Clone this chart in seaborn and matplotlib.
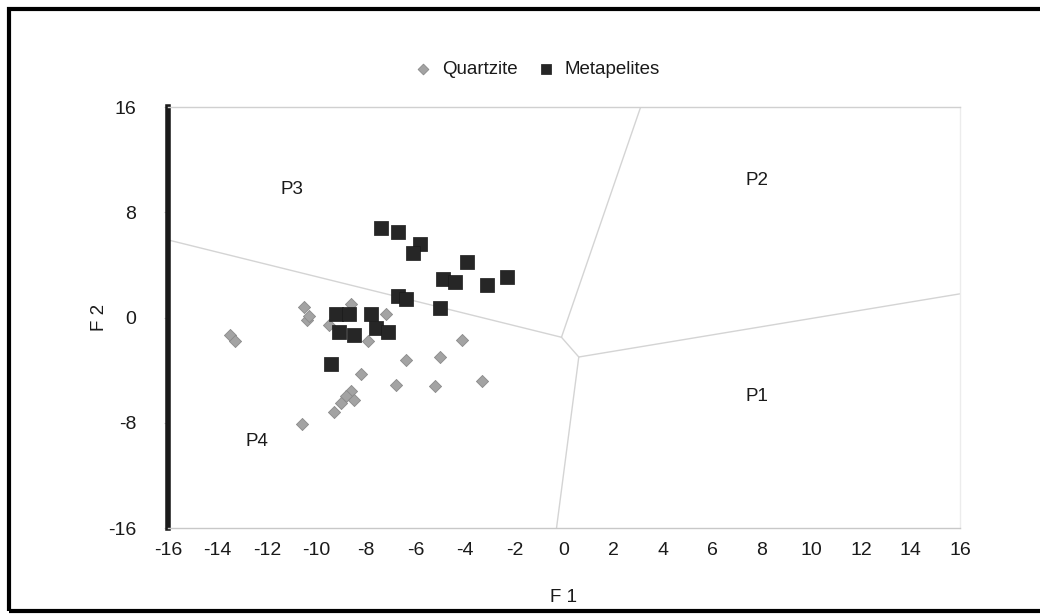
import numpy as np
import pandas as pd
import matplotlib
matplotlib.use("Agg")
import matplotlib.pyplot as plt
import seaborn as sns
from matplotlib.patches import Rectangle

# discriminant scores
quartzite_f1 = [-13.5, -13.3, -10.5, -10.4, -10.3, -9.5, -8.6, -7.2, -7.9, -4.1, -6.4,
                -5.0, -8.2, -8.6, -8.8, -8.5, -9.0, -9.3, -6.8, -5.2, -3.3, -10.6]
quartzite_f2 = [-1.3, -1.8, 0.8, -0.2, 0.1, -0.6, 1.0, 0.3, -1.8, -1.7, -3.2,
                -3.0, -4.3, -5.6, -6.0, -6.3, -6.5, -7.2, -5.1, -5.2, -4.8, -8.1]

metapelite_f1 = [-7.4, -6.7, -5.8, -6.1, -3.9, -4.9, -4.4, -3.1, -2.3, -6.7, -6.4,
                 -5.0, -9.2, -8.7, -7.8, -9.1, -8.5, -7.6, -7.1, -9.4]
metapelite_f2 = [6.8, 6.5, 5.6, 4.9, 4.2, 2.9, 2.7, 2.5, 3.1, 1.6, 1.4,
                 0.7, 0.3, 0.3, 0.3, -1.1, -1.3, -0.8, -1.1, -3.5]

# field boundaries (P1-P4)
boundary_lines = [
    ([-16.0, -0.1], [5.9, -1.5]),
    ([-0.1, 3.1], [-1.5, 16.0]),
    ([-0.1, 0.6], [-1.5, -3.0]),
    ([0.6, 16.0], [-3.0, 1.8]),
    ([0.6, -0.3], [-3.0, -16.0]),
]
field_names = ["P1", "P2", "P3", "P4"]
field_x = [7.8, 7.8, -11.0, -12.4]
field_y = [-6.0, 10.4, 9.7, -9.4]

df = pd.DataFrame({
    "F1": quartzite_f1 + metapelite_f1,
    "F2": quartzite_f2 + metapelite_f2,
    "rock": ["Quartzite"] * len(quartzite_f1) + ["Metapelites"] * len(metapelite_f1),
})

sns.set_style("white")
plt.rcParams["font.family"] = ["Liberation Sans", "DejaVu Sans"]
plt.rcParams["axes.unicode_minus"] = False
txt = "#1a1a1a"

fig = plt.figure(figsize=(10.4, 6.14), dpi=100)
ax = fig.add_axes([0.1615, 0.14, 0.7615, 0.6857])

for xs, ys in boundary_lines:
    ax.plot(xs, ys, color="#d4d4d4", lw=1, zorder=1)

sns.scatterplot(data=df[df.rock == "Quartzite"], x="F1", y="F2", marker="D",
                s=38, color="#a3a3a3", edgecolor="#8a8a8a", linewidth=0.6,
                ax=ax, zorder=3, label="Quartzite")
sns.scatterplot(data=df[df.rock == "Metapelites"], x="F1", y="F2", marker="s",
                s=110, color="#262626", edgecolor="#1a1a1a", linewidth=0.5,
                ax=ax, zorder=4, label="Metapelites")

for name, fx, fy in zip(field_names, field_x, field_y):
    ax.text(fx, fy, name, fontsize=13.5, ha="center", va="center", color=txt)

ax.set_xlim(-16, 16)
ax.set_ylim(-16, 16)
ax.set_xticks(np.arange(-16, 17, 2))
ax.set_yticks([-16, -8, 0, 8, 16])
ax.tick_params(axis="x", length=3, color="#cccccc", labelsize=14, pad=7, labelcolor=txt)
ax.tick_params(axis="y", left=True, length=3, color="#cccccc", labelsize=14, pad=20, labelcolor=txt)
ax.set_xlabel("F 1", fontsize=13.5, labelpad=22, color=txt)
ax.set_ylabel("F 2", fontsize=13.5, labelpad=0, color=txt)

ax.spines["left"].set_color("#1a1a1a")
ax.spines["left"].set_linewidth(4)
ax.spines["bottom"].set_color("#c8c8c8")
ax.spines["bottom"].set_linewidth(1)
ax.spines["top"].set_color("#d0d0d0")
ax.spines["top"].set_linewidth(1)
ax.spines["right"].set_color("#ececec")
ax.spines["right"].set_linewidth(1)

handles, labels = ax.get_legend_handles_labels()
leg = ax.legend(handles, labels, loc="lower center", bbox_to_anchor=(0.46, 1.03), ncol=2,
                frameon=False, fontsize=13.5, handletextpad=0.0, columnspacing=0.5)
for t in leg.get_texts():
    t.set_color(txt)
leg.legend_handles[0].set_sizes([30])
leg.legend_handles[1].set_sizes([45])

fig.patches.append(Rectangle((0.0087, 0.005), 1.02, 0.98, transform=fig.transFigure,
                             fill=False, edgecolor="black", lw=3))

fig.savefig("out.png", dpi=100)
